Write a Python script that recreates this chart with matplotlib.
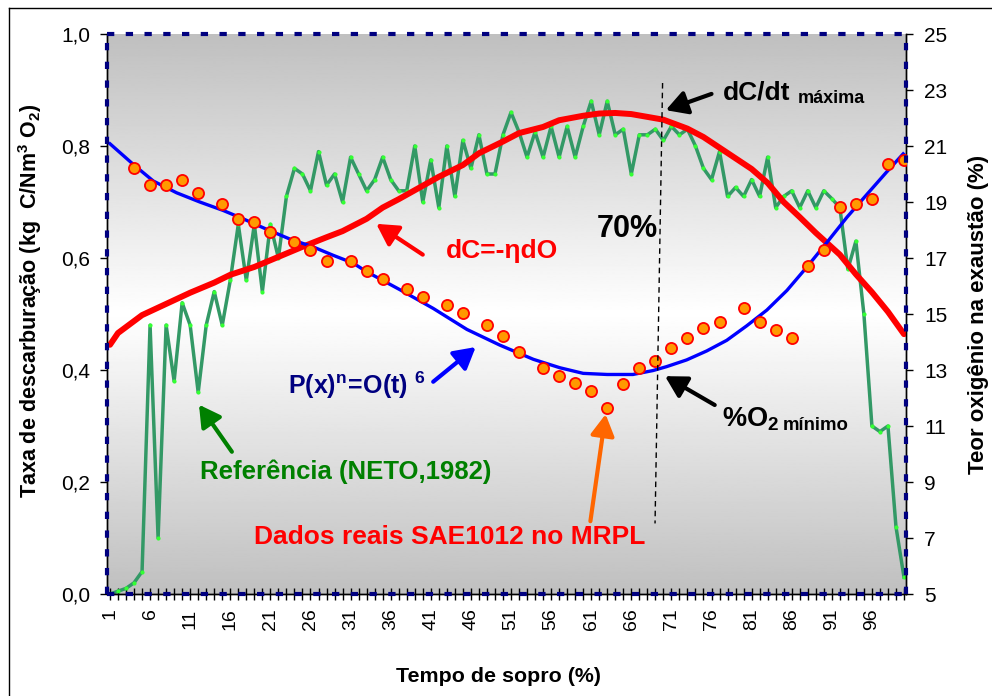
import numpy as np
import matplotlib.pyplot as plt
from matplotlib.lines import Line2D

plt.rcParams['font.family'] = ['Liberation Sans', 'DejaVu Sans']
plt.rcParams['mathtext.fontset'] = 'custom'
plt.rcParams['mathtext.rm'] = 'Liberation Sans'
plt.rcParams['mathtext.bf'] = 'Liberation Sans:bold'
plt.rcParams['mathtext.it'] = 'Liberation Sans:italic'

# tempo de sopro (%) - categorias 1..100
tempo = np.arange(1, 101)

# Referencia (NETO,1982) - taxa de descarburacao, eixo esquerdo
referencia = [0.00, 0.005, 0.01, 0.02, 0.04, 0.48, 0.10, 0.48, 0.38, 0.52,
              0.48, 0.36, 0.48, 0.54, 0.48, 0.56, 0.66, 0.56, 0.66, 0.54,
              0.66, 0.60, 0.71, 0.76, 0.75, 0.72, 0.79, 0.73, 0.75, 0.70,
              0.78, 0.75, 0.72, 0.74, 0.78, 0.74, 0.72, 0.72, 0.80, 0.70,
              0.775, 0.69, 0.80, 0.71, 0.81, 0.76, 0.82, 0.75, 0.75, 0.82,
              0.86, 0.825, 0.78, 0.825, 0.78, 0.835, 0.78, 0.835, 0.78, 0.835,
              0.88, 0.82, 0.88, 0.82, 0.83, 0.75, 0.82, 0.82, 0.83, 0.81,
              0.835, 0.82, 0.83, 0.80, 0.76, 0.74, 0.79, 0.71, 0.726, 0.71,
              0.74, 0.71, 0.78, 0.69, 0.71, 0.72, 0.69, 0.72, 0.69, 0.72,
              0.706, 0.69, 0.58, 0.63, 0.50, 0.30, 0.29, 0.30, 0.12, 0.03]

# dC = -eta dO (eixo esquerdo)
dc_t = [1, 2, 5, 8, 11, 14, 16, 19, 22, 25, 28, 30, 33, 35, 37, 40, 42, 45,
        47, 50, 52, 55, 57, 60, 62, 64, 66, 68, 70, 73, 75, 77, 79, 81, 83,
        85, 87, 89, 92, 94, 96, 98, 100]
dc_val = [0.445, 0.466, 0.498, 0.518, 0.538, 0.556, 0.570, 0.584, 0.602,
          0.620, 0.637, 0.648, 0.670, 0.690, 0.705, 0.729, 0.745, 0.766,
          0.787, 0.808, 0.823, 0.834, 0.846, 0.854, 0.858, 0.859, 0.857,
          0.852, 0.847, 0.831, 0.816, 0.797, 0.778, 0.759, 0.734, 0.700,
          0.673, 0.645, 0.606, 0.571, 0.539, 0.504, 0.464]

# P(x)^n = O(t)^6 - teor de O2 (%), eixo direito
px_t = [1, 4, 6.4, 9.3, 12.2, 15.1, 17.6, 20.5, 23.4, 26.3, 28.8, 31.3, 33,
        37.2, 41.3, 45.5, 49.6, 53.8, 57.1, 60, 63, 66.2, 68.7, 70.4, 72.9,
        75.4, 77.9, 80.4, 82.9, 85.4, 87.9, 90.4, 92.9, 95.4, 97.8, 99.9]
px_val = [21.08, 20.32, 19.75, 19.33, 19.00, 18.70, 18.40, 18.03, 17.68,
          17.40, 17.10, 16.82, 16.51, 15.86, 15.20, 14.45, 13.89, 13.38,
          13.08, 12.88, 12.84, 12.84, 12.98, 13.12, 13.36, 13.68, 14.06,
          14.58, 15.14, 15.84, 16.68, 17.56, 18.46, 19.28, 20.06, 20.72]

# Dados reais SAE1012 no MRPL - teor de O2 (%), eixo direito
dados_t = [4, 6, 8, 10, 12, 15, 17, 19, 21, 24, 26, 28, 31, 33, 35, 38, 40,
           43, 45, 48, 50, 52, 55, 57, 59, 61, 63, 65, 67, 69, 71, 73, 75, 77,
           80, 82, 84, 86, 88, 90, 92, 94, 96, 98, 100]
dados_val = [20.22, 19.62, 19.62, 19.80, 19.33, 18.94, 18.38, 18.27, 17.94,
             17.58, 17.28, 16.88, 16.88, 16.52, 16.25, 15.88, 15.60, 15.32,
             15.02, 14.60, 14.21, 13.66, 13.07, 12.79, 12.54, 12.25, 11.64,
             12.50, 13.06, 13.32, 13.80, 14.14, 14.50, 14.72, 15.20, 14.72,
             14.44, 14.14, 16.72, 17.29, 18.82, 18.93, 19.10, 20.34, 20.50]

navy = '#000080'

fig = plt.figure(figsize=(9.92, 6.96), dpi=100)
ax = fig.add_axes([107 / 992, 1 - 594 / 696, 799 / 992, 560 / 696])
ax2 = ax.twinx()

x0, x1 = 0.63, 100.25
ax.set_xlim(x0, x1)
ax.set_ylim(0, 1)
ax2.set_ylim(5, 25)

# fundo em degrade cinza-branco-cinza
g = 1 - 0.25 * np.abs(np.linspace(-1, 1, 400))
ax.imshow(g[:, None], cmap='gray', vmin=0, vmax=1, aspect='auto',
          extent=[x0, x1, 0, 1], zorder=0, interpolation='bilinear')

ax.plot(tempo, referencia, color='#339966', lw=2.5, zorder=2,
        marker='o', ms=3, mfc='#33ff33', mec='none')
ax.plot(dc_t, dc_val, color='#ff0000', lw=4.3, zorder=3, solid_capstyle='round')
ax2.plot(px_t, px_val, color='#0000ff', lw=2.4, zorder=3)
ax2.plot(dados_t, dados_val, ls='none', marker='o', ms=8,
         mfc='#ff9900', mec='#ff0000', mew=1.3, zorder=4)

# eixos e ticks
ax.set_xticks(tempo)
ax.set_xticklabels([str(t) if (t - 1) % 5 == 0 else '' for t in tempo],
                   rotation=90, fontsize=14)
ax.tick_params(axis='x', direction='inout', length=9, width=1, pad=6)
ax.set_yticks(np.arange(0, 1.01, 0.2))
ax.set_yticklabels([f'{v:.1f}'.replace('.', ',') for v in np.arange(0, 1.01, 0.2)],
                   fontsize=15)
ax.tick_params(axis='y', direction='out', length=5, width=1, pad=7)
ax2.set_yticks(np.arange(5, 26, 2))
ax2.tick_params(axis='y', direction='out', length=5, width=1, labelsize=15, pad=8)

for a in (ax, ax2):
    a.spines['top'].set_visible(False)
    for s in ('left', 'right', 'bottom'):
        a.spines[s].set_linewidth(1)

ax.set_ylabel(r'Taxa de descarburação (kg  C/Nm$^\mathbf{3}$ O$_\mathbf{2}$)',
              fontsize=15.5, fontweight='bold')
ax.yaxis.set_label_coords(-0.079, 0.523)
ax2.set_ylabel('Teor oxigênio na exaustão (%)', fontsize=16, fontweight='bold')
ax2.yaxis.set_label_coords(1.0776, 0.5)
ax.set_xlabel('Tempo de sopro (%)', fontsize=15.4, fontweight='bold')
ax.xaxis.set_label_coords(0.49, -0.13)

# moldura tracejada azul-marinho
for xs, ys in (([0, 0], [0, 1]), ([0, 1], [1, 1]), ([1, 1], [0, 1]), ([0, 1], [0, 0])):
    ax2.add_line(Line2D(xs, ys, transform=ax2.transAxes, color=navy, lw=3,
                        ls=(0, (1.75, 2.75)), clip_on=False, zorder=10))

# borda da figura
fig.add_artist(Line2D([9 / 992, 9 / 992], [0, 1 - 8 / 696], color='black', lw=1))
fig.add_artist(Line2D([9 / 992, 1], [1 - 8 / 696, 1 - 8 / 696], color='black', lw=1))

# linha tracejada em 70%
ax2.plot([69.9, 68.96], [0.9125, 0.126], transform=ax.transData, color='black',
         lw=1, ls=(0, (4, 3)), zorder=5)


def seta(tail, head, cor):
    ax2.annotate('', xy=head, xytext=tail, xycoords=ax.transData,
                 textcoords=ax.transData,
                 arrowprops=dict(arrowstyle='-|>,head_length=0.8,head_width=0.45',
                                 lw=3, color=cor, mutation_scale=16,
                                 shrinkA=0, shrinkB=0), zorder=6)


seta((40.0, 0.606), (34.2, 0.661), '#ff0000')
seta((41.3, 0.379), (46.6, 0.441), '#0000ff')
seta((16.2, 0.254), (12.1, 0.338), '#008000')
seta((60.9, 0.130), (62.8, 0.321), '#ff6600')
seta((76.0, 0.893), (70.3, 0.864), 'black')
seta((76.4, 0.3375), (70.2, 0.389), 'black')

kw = dict(transform=ax.transData, fontweight='bold', zorder=7)
ax2.text(65.5, 0.652, '70%', fontsize=22, ha='center', va='center', **kw)
ax2.text(49.9, 0.6125, 'dC=-ηdO', fontsize=19, color='#ff0000',
         ha='center', va='center', **kw)
ax2.text(40.3, 0.372, r'$\mathbf{P(x)^{n}\!=\!O(t)\ {}^{6}}$', fontsize=18,
         color=navy, ha='right', va='center', **kw)
ax2.text(30.4, 0.218, 'Referência (NETO,1982)', fontsize=18.5, color='#008000',
         ha='center', va='center', **kw)
ax2.text(43.3, 0.102, 'Dados reais SAE1012 no MRPL', fontsize=19,
         color='#ff0000', ha='center', va='center', **kw)
ax2.text(77.4, 0.896, 'dC/dt', fontsize=19, ha='left', va='center', **kw)
ax2.text(86.7, 0.884, 'máxima', fontsize=13, ha='left', va='center', **kw)
ax2.text(77.3, 0.3125, r'%O$_\mathbf{2}$', fontsize=19.5, ha='left',
         va='center', **kw)
ax2.text(84.9, 0.300, 'mínimo', fontsize=13.4, ha='left', va='center', **kw)

fig.savefig('out.png', dpi=100)
